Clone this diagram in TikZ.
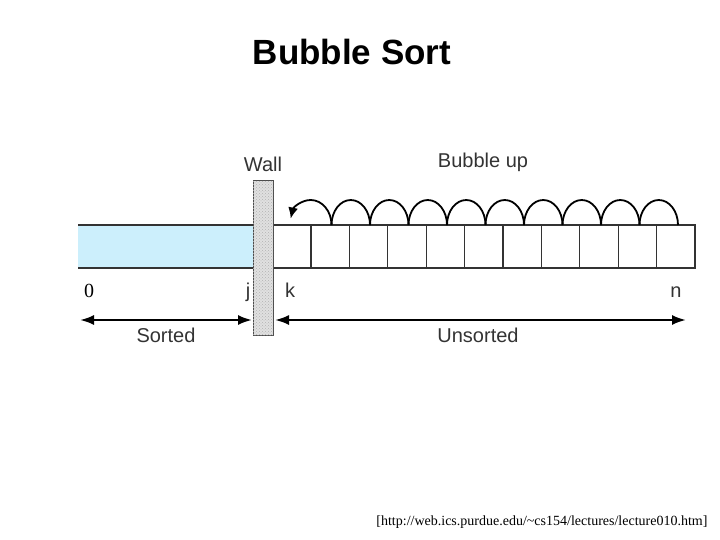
\documentclass[tikz,border=0pt]{standalone}
\usepackage{fontspec}
\setsansfont{Liberation Sans}
\setmainfont{Liberation Serif}
\usetikzlibrary{arrows.meta,patterns,positioning}
\tikzset{
  lbl/.style={font=\sffamily\fontsize{20}{20}\selectfont, text=black!80},
  idx/.style={lbl, anchor=base},
  cell/.style={draw=black!80, line width=1.3pt},
  dimarrow/.style={{Latex[length=14pt,width=10pt]}-{Latex[length=14pt,width=10pt]}, line width=2.2pt}
}
\begin{document}
\begin{tikzpicture}[x=1pt,y=-1pt]
\useasboundingbox (0,0) rectangle (720,540);
\node[font=\sffamily\bfseries\fontsize{35}{35}\selectfont] (title) at (352,52) {Bubble Sort};
% array
\fill[cyan!20] (78,225) rectangle (253,268);
\draw[cell] (78,225) -- (253,225) (78,268) -- (253,268);
\draw[cell] (273,225) rectangle (695,268);
\foreach \i in {0,...,9}
  \draw[cell] ({311+38.4*\i},225) -- ({311+38.4*\i},268);
% bubbles
\foreach \i in {0,...,8}
  \draw[line width=1.8pt] ({678-38.5*\i},225) arc[start angle=0,end angle=180,x radius=19.25,y radius=-25];
\draw[line width=1.8pt,-{Latex[length=11pt,width=10pt]}] (331.5,225) arc[start angle=0,end angle=165,x radius=20.75,y radius=-25];
% wall
\draw[black!70, line width=1pt, fill=black!12] (253,181) rectangle (273,335);
\fill[pattern=crosshatch dots, pattern color=black!30] (253,181) rectangle (273,335);
\node[lbl] (wall) at (263,164) {Wall};
\node[lbl] (bub) at (483,162) {Bubble up};
\node[font=\fontsize{20}{20}\selectfont, anchor=base] (zero) at (89,297) {0};
\node[idx] (j) at (248,297) {j};
\node[idx] (k) at (290,297) {k};
\node[idx] (n) at (676,297) {n};
\coordinate (sl) at (80,320);
\coordinate (sr) at (252,320);
\coordinate (ul) at (275,320);
\coordinate (ur) at (686,320);
\draw[dimarrow] (sl) -- (sr);
\draw[dimarrow] (ul) -- (ur);
\node[lbl] (sorted) at (166,335) {Sorted};
\node[lbl] (unsorted) at (478,335) {Unsorted};
\node[font=\fontsize{14}{14}\selectfont, anchor=east] (src) at (711,522) {[http://web.ics.purdue.edu/\textasciitilde cs154/lectures/lecture010.htm]};
\end{tikzpicture}
\end{document}
